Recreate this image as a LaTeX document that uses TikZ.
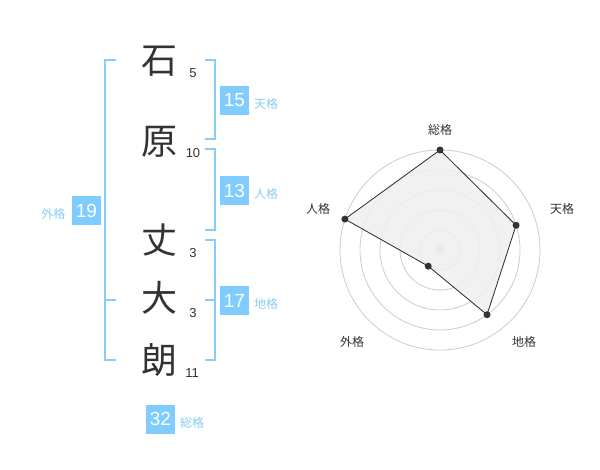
\documentclass[tikz,border=0pt]{standalone}
\usepackage{fontspec}
\setmainfont{Liberation Sans}
\newfontfamily\jpfont{Noto Sans CJK JP}
\definecolor{boxblue}{HTML}{80CCFF}
\definecolor{lblblue}{HTML}{88CCF0}
\definecolor{brblue}{HTML}{88CCF8}
\definecolor{ink}{HTML}{333333}
\definecolor{ringgray}{HTML}{CCCCCC}
\definecolor{polyfill}{HTML}{EFEFEF}
\tikzset{
  kanji/.style={font=\jpfont\fontsize{36}{36}\selectfont, text=ink, inner sep=0pt},
  stroke/.style={font=\fontsize{13}{13}\selectfont, text=ink, inner sep=0pt},
  valbox/.style={fill=boxblue, text=white, minimum width=29pt, minimum height=29pt, inner sep=0pt, font=\fontsize{19}{19}\selectfont},
  kaku/.style={font=\jpfont\fontsize{12}{12}\selectfont, text=lblblue, inner sep=0pt},
  bracket/.style={draw=brblue, line width=2pt},
  ring/.style={draw=ringgray, line width=0.8pt},
  axlabel/.style={font=\jpfont\fontsize{12}{12}\selectfont, text=ink, inner sep=0pt},
  vdot/.style={circle, fill=ink, inner sep=0pt, minimum size=7pt},
}
\begin{document}
\begin{tikzpicture}[x=1pt, y=-1pt]
\useasboundingbox (0,0) rectangle (600,470);
% name characters
\node[kanji] (c1) at (159,61) {石};
\node[kanji] (c2) at (159,142) {原};
\node[kanji] (c3) at (159,240) {丈};
\node[kanji] (c4) at (159,298) {大};
\node[kanji] (c5) at (159,360) {朗};
% stroke counts
\node[stroke] (n1) at (193,73) {5};
\node[stroke] (n2) at (193,153) {10};
\node[stroke] (n3) at (193,253) {3};
\node[stroke] (n4) at (193,313) {3};
\node[stroke] (n5) at (192,373) {11};
% brackets
\draw[bracket] (116,60) -- (105,60) -- (105,360) -- (116,360);
\draw[bracket] (105,300) -- (116,300);
\draw[bracket] (205,60) -- (215,60) -- (215,139) -- (205,139);
\draw[bracket] (205,149) -- (215,149) -- (215,230) -- (205,230);
\draw[bracket] (205,240) -- (215,240) -- (215,360) -- (205,360);
\draw[bracket] (205,300) -- (215,300);
% value boxes
\node[valbox] (b15) at (234.5,100.5) {15};
\node[kaku] (k15) at (266,104) {天格};
\node[valbox] (b13) at (234.5,190.5) {13};
\node[kaku] (k13) at (266,194) {人格};
\node[valbox] (b19) at (86.5,210.5) {19};
\node[kaku] (k19) at (53.5,214) {外格};
\node[valbox] (b17) at (234.5,300.5) {17};
\node[kaku] (k17) at (266,304) {地格};
\node[valbox] (b32) at (160.5,419) {32};
\node[kaku] (k32) at (192,423) {総格};
% radar chart
\begin{scope}[shift={(440,250)}]
  \foreach \r in {20,40,60,80,100} \draw[ring] (0,0) circle[radius=\r];
  \fill[ringgray] (0,0) circle[radius=4];
  \coordinate (pS) at (-90:100);
  \coordinate (pT) at (-18:80);
  \coordinate (pC) at (54:80);
  \coordinate (pG) at (126:20);
  \coordinate (pJ) at (198:100);
  \draw[fill=polyfill, fill opacity=0.85, draw=ink!80!black, line width=0.8pt] (pS) -- (pT) -- (pC) -- (pG) -- (pJ) -- cycle;
  \foreach \p in {pS,pT,pC,pG,pJ} \node[vdot] at (\p) {};
\end{scope}
\node[axlabel] (lS) at (440,130) {総格};
\node[axlabel] (lT) at (562,209) {天格};
\node[axlabel] (lC) at (524,342) {地格};
\node[axlabel] (lG) at (352,342) {外格};
\node[axlabel] (lJ) at (318,209) {人格};
\end{tikzpicture}
\end{document}
